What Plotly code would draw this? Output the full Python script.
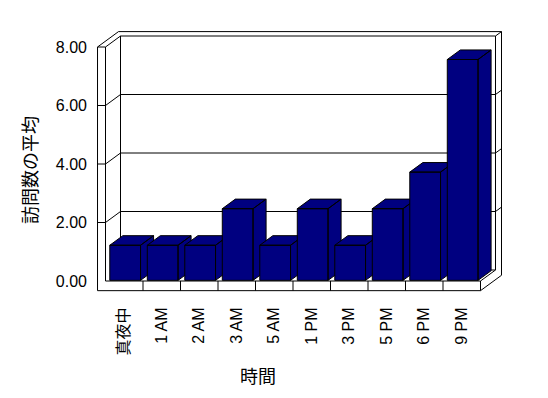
import plotly.graph_objects as go

categories = ["真夜中", "1 AM", "2 AM", "3 AM", "5 AM", "1 PM", "3 PM", "5 PM", "6 PM", "9 PM"]
avg_visits = [1.2, 1.2, 1.2, 2.45, 1.2, 2.45, 1.2, 2.45, 3.7, 7.55]
y_ticks = [0, 2, 4, 6, 8]
y_tick_labels = ["0.00", "2.00", "4.00", "6.00", "8.00"]
x_title = "時間"
y_title = "訪問数の平均"

NAVY = "#000080"
# oblique depth vector (in axis units per unit depth)
DX, DY = 0.4, 0.376

def P(c, v, d):
    return (c + d * DX, v + d * DY)

def poly(pts):
    xs = [p[0] for p in pts] + [pts[0][0]]
    ys = [p[1] for p in pts] + [pts[0][1]]
    return xs, ys

def multi(polys):
    X, Y = [], []
    for pts in polys:
        xs, ys = poly(pts)
        X += xs + [None]
        Y += ys + [None]
    return X, Y

def segs(lines):
    X, Y = [], []
    for pts in lines:
        X += [p[0] for p in pts] + [None]
        Y += [p[1] for p in pts] + [None]
    return X, Y

n = len(categories)
c0, c1 = -0.5, n - 0.5
cL = c0 - 0.213
vB = -0.33
vT = y_ticks[-1]
dB = 1.4

fig = go.Figure()

# wall / floor fills (white)
wall_polys = [
    # back wall front face
    [P(c0, 0, 1), P(c0, vT, 1), P(c1, vT, 1), P(c1, 0, 1)],
    # back wall top strip
    [P(cL, vT, 1), P(c1, vT, 1), P(c1, vT, dB), P(cL, vT, dB)],
    # back wall right strip
    [P(c1, vB, 1), P(c1, vT, 1), P(c1, vT, dB), P(c1, vB, dB)],
    # left wall inner face
    [P(c0, 0, 0), P(c0, vT, 0), P(c0, vT, 1), P(c0, 0, 1)],
    # left wall front face
    [P(cL, vB, 0), P(cL, vT, 0), P(c0, vT, 0), P(c0, vB, 0)],
    # left wall top
    [P(cL, vT, 0), P(c0, vT, 0), P(c0, vT, 1), P(cL, vT, dB)],
    # floor top
    [P(c0, 0, 0), P(c1, 0, 0), P(c1, 0, 1), P(c0, 0, 1)],
    # floor front
    [P(cL, vB, 0), P(c1, vB, 0), P(c1, 0, 0), P(cL, 0, 0)],
    # floor right side
    [P(c1, vB, 0), P(c1, 0, 0), P(c1, 0, 1), P(c1, vB, dB)],
]
X, Y = multi(wall_polys)
fig.add_trace(go.Scatter(x=X, y=Y, mode="lines", fill="toself", fillcolor="white",
                         line=dict(width=0, color="white"), hoverinfo="skip", showlegend=False))

edges = [
    [P(cL, vB, 0), P(cL, vT, 0), P(c0, vT, 0), P(c0, 0, 0)],
    [P(cL, vT, 0), P(cL, vT, dB), P(c1, vT, dB), P(c1, vB, dB)],
    [P(c0, vT, 0), P(c0, vT, 1)],
    [P(c0, 0, 1), P(c0, vT, 1), P(c1, vT, 1), P(c1, 0, 1), P(c0, 0, 1)],
    [P(c1, vT, 1), P(c1, vT, dB)],
    [P(cL, vB, 0), P(c1, vB, 0), P(c1, 0, 0), P(c0, 0, 0)],
    [P(c1, 0, 0), P(c1, 0, 1)],
    [P(c1, vB, 0), P(c1, vB, dB)],
]
for k in range(1, n):
    edges.append([P(k - 0.5, vB, 0), P(k - 0.5, 0, 0)])
for v in y_ticks[1:-1]:
    edges.append([P(cL, v, 0), P(c0, v, 0), P(c0, v, 1), P(c1, v, 1), P(c1, v, dB)])
X, Y = segs(edges)
fig.add_trace(go.Scatter(x=X, y=Y, mode="lines", line=dict(width=1, color="black"),
                         hoverinfo="skip", showlegend=False))

# bars
hw = 0.41
d0, d1 = 0.06, 0.06 + 0.87
for i, val in enumerate(avg_visits):
    cl, cr = i - hw, i + hw
    bar_polys = [
        [P(cl, 0, d0), P(cl, val, d0), P(cr, val, d0), P(cr, 0, d0)],
        [P(cl, val, d0), P(cl, val, d1), P(cr, val, d1), P(cr, val, d0)],
        [P(cr, 0, d0), P(cr, val, d0), P(cr, val, d1), P(cr, 0, d1)],
    ]
    X, Y = multi(bar_polys)
    fig.add_trace(go.Scatter(x=X, y=Y, mode="lines", fill="toself", fillcolor=NAVY,
                             line=dict(width=1, color="black"), hoverinfo="skip",
                             showlegend=False))

FONT = "Liberation Sans, Arial, Noto Sans CJK JP, sans-serif"
fig.update_layout(
    width=548, height=398, autosize=False,
    margin=dict(l=88, r=40, t=26, b=104),
    paper_bgcolor="white", plot_bgcolor="white",
    font=dict(family=FONT, color="black", size=16),
    xaxis=dict(range=[-0.967, 10.233], showgrid=False, zeroline=False, showline=False,
               tickmode="array", tickvals=list(range(n)), ticktext=categories,
               tickangle=-90, ticks="outside", ticklen=6, tickcolor="rgba(0,0,0,0)",
               tickfont=dict(size=16, family="Liberation Sans, Noto Sans CJK JP")),
    yaxis=dict(range=[-0.444, 8.718], showgrid=False, zeroline=False, showline=False,
               tickmode="array", tickvals=y_ticks, ticktext=y_tick_labels,
               ticks="", tickfont=dict(size=16)),
    annotations=[
        dict(text=y_title, xref="paper", yref="paper", x=(29 - 88) / 420, y=(294 - 170) / 268,
             textangle=-90, showarrow=False, xanchor="center", yanchor="middle",
             font=dict(size=18, family="Noto Sans CJK JP")),
        dict(text=x_title, xref="paper", yref="paper", x=(258 - 88) / 420, y=(294 - 375) / 268,
             showarrow=False, xanchor="center", yanchor="middle",
             font=dict(size=18, family="Noto Sans CJK JP")),
    ],
)

fig.write_html("out.html")
